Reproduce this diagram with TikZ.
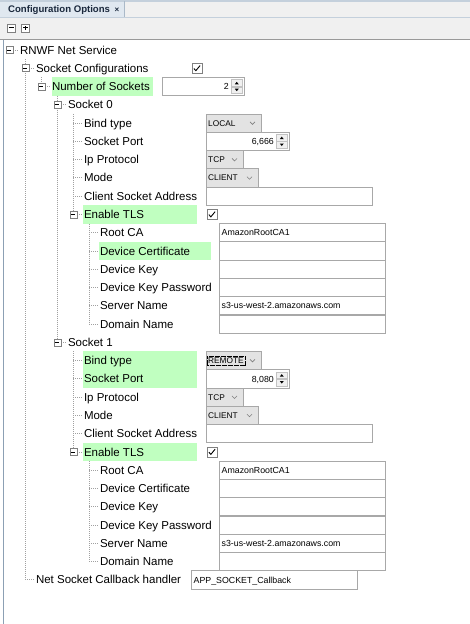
\documentclass[tikz,border=0pt]{standalone}
\usepackage{fontspec}
\setmainfont{Liberation Sans}
\definecolor{hl}{RGB}{192,255,192}
\definecolor{tline}{RGB}{160,160,160}
\definecolor{fborder}{RGB}{168,168,168}
\definecolor{ddfill}{RGB}{227,227,227}
\definecolor{tabfill}{RGB}{224,232,240}
\definecolor{barfill}{RGB}{240,240,240}
\definecolor{bluline}{RGB}{196,208,220}
\definecolor{tabsep}{RGB}{170,185,200}
\definecolor{frameline}{RGB}{140,160,180}
\definecolor{tabtext}{RGB}{26,40,60}
\tikzset{
  treeline/.style={tline, line width=0.8pt, dash pattern=on 1pt off 1pt},
  lbl/.style={anchor=west, inner sep=0pt, text height=8.2pt, text depth=0pt, font=\fontsize{11.5}{13}\selectfont},
  ftxt/.style={anchor=west, inner sep=0pt, text height=6.4pt, text depth=0pt, font=\fontsize{8.8}{10}\selectfont},
  ddtxt/.style={anchor=west, inner sep=0pt, text height=6.2pt, text depth=0pt, font=\fontsize{8.3}{10}\selectfont},
  fieldbox/.style={draw=fborder, fill=white, line width=0.8pt},
  ddbox/.style={draw=fborder, fill=ddfill, line width=0.8pt},
  spinbtn/.style={draw=fborder!70, fill=barfill, line width=0.5pt},
  expbox/.style={draw=gray, fill=white, line width=0.6pt, minimum size=7pt, inner sep=0pt},
  tbbtn/.style={draw=gray, fill=white, line width=0.6pt, minimum size=8pt, inner sep=0pt},
}
\newcommand\RY[1]{(50+18.27*(#1))}
\newcommand\XL[1]{(9.3+16*(#1))}
\newcommand\leaflabel[4]{%
  \node[lbl] (#1) at ({\XL{#2}+10.5},{\RY{#3}}) {#4};
  \draw[treeline] ({\XL{#2}},{\RY{#3}}) -- ([xshift=-1.5pt]#1.west);
}
\newcommand\explabel[4]{%
  \node[lbl] (#1) at ({\XL{#2}+10.5},{\RY{#3}}) {#4};
  \draw[treeline] ({\XL{#2}+3.5},{\RY{#3}}) -- ([xshift=-1.5pt]#1.west);
  \node[expbox] (#1x) at ({\XL{#2}},{\RY{#3}}) {};
  \draw[line width=0.8pt] ([xshift=-2pt]#1x.center) -- ([xshift=2pt]#1x.center);
}
\newcommand\tfield[5]{%
  \draw[fieldbox] (#2,{\RY{#4}-9.1}) rectangle (#3,{\RY{#4}+9.1});
  \node[ftxt] (#1) at ({#2+2.5},{\RY{#4}}) {#5};
}
\newcommand\ddown[5]{%
  \draw[ddbox] (#2,{\RY{#4}-9.1}) rectangle (#3,{\RY{#4}+9.1});
  \node[ddtxt] (#1) at ({#2+2},{\RY{#4}}) {#5};
  \draw[gray, line width=0.6pt] ({#3-11},{\RY{#4}-1.2}) -- ({#3-8.5},{\RY{#4}+1.3}) -- ({#3-6},{\RY{#4}-1.2});
}
\newcommand\spin[6]{%
  \draw[fieldbox] (#2,{\RY{#5}-9.1}) rectangle (#4,{\RY{#5}+9.1});
  \node[ftxt, anchor=east] (#1) at ({#3-2},{\RY{#5}}) {#6};
  \draw[spinbtn] ({#3},{\RY{#5}-7}) rectangle ({#4-1.5},{\RY{#5}-0.3});
  \draw[spinbtn] ({#3},{\RY{#5}+0.3}) rectangle ({#4-1.5},{\RY{#5}+7});
  \fill ({(#3+#4-1.5)/2-2},{\RY{#5}-2.2}) -- ++(4,0) -- ++(-2,-2.5) -- cycle;
  \fill ({(#3+#4-1.5)/2-2},{\RY{#5}+2.2}) -- ++(4,0) -- ++(-2,2.5) -- cycle;
}
\newcommand\cbox[3]{%
  \node[draw=gray, fill=white, minimum size=10pt, inner sep=0pt, line width=0.7pt, anchor=west] (#1) at (#2,{\RY{#3}}) {};
  \draw[line width=0.9pt] ([shift={(-3,0.2)}]#1.center) -- ([shift={(-1,2.4)}]#1.center) -- ([shift={(3.3,-2.8)}]#1.center);
}
\newcommand\hlrows[4]{%
  \fill[hl] (#1,{\RY{#3}-9.13}) rectangle (#2,{\RY{#4}+9.13});
}
\begin{document}
\begin{tikzpicture}[x=1pt,y=-1pt]
\useasboundingbox (0,0) rectangle (470,624);
\fill[white] (0,0) rectangle (470,624);
% header
\fill[barfill] (0,0) rectangle (470,39);
\fill[tabfill] (0,1.5) rectangle (124,17);
\draw[bluline, line width=1.2pt] (0,1) -- (470,1);
\draw[bluline, line width=1.5pt] (0,17.3) -- (470,17.3);
\draw[tabsep, line width=0.8pt] (124,1) -- (124,17);
\node[anchor=west, inner sep=0pt, text=tabtext, font=\bfseries\fontsize{9.6}{11}\selectfont] (tab) at (8,9.6) {Configuration Options};
\node[inner sep=0pt, text=tabtext, font=\bfseries\fontsize{8}{9}\selectfont] (tabclose) at (117,9.8) {×};
\draw[gray!80, line width=1pt] (0,39) -- (470,39);
\node[tbbtn] (collapse) at (11.2,27.8) {};
\draw[line width=0.9pt] ([xshift=-2.3pt]collapse.center) -- ([xshift=2.3pt]collapse.center);
\node[tbbtn] (expand) at (25.5,27.8) {};
\draw[line width=0.9pt] ([xshift=-2.3pt]expand.center) -- ([xshift=2.3pt]expand.center);
\draw[line width=0.9pt] ([yshift=-2.3pt]expand.center) -- ([yshift=2.3pt]expand.center);
\draw[frameline, line width=1pt] (3,39.5) -- (3,624);
% highlights
\hlrows{52}{153}{2}{2}
\hlrows{83}{197}{9}{9}
\hlrows{99}{211}{11}{11}
\hlrows{83}{197}{17}{18}
\hlrows{83}{197}{22}{22}
% vertical tree lines
\draw[treeline] ({\XL{1}},{\RY{1}-9.13}) -- ({\XL{1}},{\RY{29}});
\draw[treeline] ({\XL{2}},{\RY{2}-9.13}) -- ({\XL{2}},{\RY{2}});
\draw[treeline] ({\XL{3}},{\RY{3}-9.13}) -- ({\XL{3}},{\RY{16}});
\draw[treeline] ({\XL{4}},{\RY{4}-9.13}) -- ({\XL{4}},{\RY{9}});
\draw[treeline] ({\XL{4}},{\RY{17}-9.13}) -- ({\XL{4}},{\RY{22}});
\draw[treeline] ({\XL{5}},{\RY{10}-9.13}) -- ({\XL{5}},{\RY{15}});
\draw[treeline] ({\XL{5}},{\RY{23}-9.13}) -- ({\XL{5}},{\RY{28}});
% tree labels
\explabel{rnwf}{0}{0}{RNWF Net Service}
\explabel{sockcfg}{1}{1}{Socket Configurations}
\explabel{numsock}{2}{2}{Number of Sockets}
\explabel{sockA}{3}{3}{Socket 0}
\leaflabel{aBind}{4}{4}{Bind type}
\leaflabel{aPort}{4}{5}{Socket Port}
\leaflabel{aProto}{4}{6}{Ip Protocol}
\leaflabel{aMode}{4}{7}{Mode}
\leaflabel{aAddr}{4}{8}{Client Socket Address}
\explabel{aTls}{4}{9}{Enable TLS}
\leaflabel{aRoot}{5}{10}{Root CA}
\leaflabel{aCert}{5}{11}{Device Certificate}
\leaflabel{aKey}{5}{12}{Device Key}
\leaflabel{aKeyPw}{5}{13}{Device Key Password}
\leaflabel{aSrv}{5}{14}{Server Name}
\leaflabel{aDom}{5}{15}{Domain Name}
\explabel{sockB}{3}{16}{Socket 1}
\leaflabel{bBind}{4}{17}{Bind type}
\leaflabel{bPort}{4}{18}{Socket Port}
\leaflabel{bProto}{4}{19}{Ip Protocol}
\leaflabel{bMode}{4}{20}{Mode}
\leaflabel{bAddr}{4}{21}{Client Socket Address}
\explabel{bTls}{4}{22}{Enable TLS}
\leaflabel{bRoot}{5}{23}{Root CA}
\leaflabel{bCert}{5}{24}{Device Certificate}
\leaflabel{bKey}{5}{25}{Device Key}
\leaflabel{bKeyPw}{5}{26}{Device Key Password}
\leaflabel{bSrv}{5}{27}{Server Name}
\leaflabel{bDom}{5}{28}{Domain Name}
\leaflabel{cbh}{1}{29}{Net Socket Callback handler}
% widgets
\cbox{sockcfgCk}{191.5}{1}
\spin{numsockV}{162}{231}{244}{2}{2}
\ddown{aBindV}{206}{261}{4}{LOCAL}
\spin{aPortV}{206}{276}{289}{5}{6,666}
\ddown{aProtoV}{206}{243}{6}{TCP}
\ddown{aModeV}{206}{258}{7}{CLIENT}
\tfield{aAddrV}{206}{372}{8}{}
\cbox{aTlsCk}{206.5}{9}
\tfield{aRootV}{219}{385}{10}{AmazonRootCA1}
\tfield{aCertV}{219}{385}{11}{}
\tfield{aKeyV}{219}{385}{12}{}
\tfield{aKeyPwV}{219}{385}{13}{}
\tfield{aSrvV}{219}{385}{14}{s3-us-west-2.amazonaws.com}
\tfield{aDomV}{219}{385}{15}{}
\ddown{bBindV}{206}{261}{17}{REMOTE}
\draw[black, line width=0.5pt, dash pattern=on 0.6pt off 0.6pt] ([shift={(-1,-1.2)}]bBindV.north west) rectangle ([shift={(1,1.6)}]bBindV.south east);
\spin{bPortV}{206}{276}{289}{18}{8,080}
\ddown{bProtoV}{206}{243}{19}{TCP}
\ddown{bModeV}{206}{258}{20}{CLIENT}
\tfield{bAddrV}{206}{372}{21}{}
\cbox{bTlsCk}{206.5}{22}
\tfield{bRootV}{219}{385}{23}{AmazonRootCA1}
\tfield{bCertV}{219}{385}{24}{}
\tfield{bKeyV}{219}{385}{25}{}
\tfield{bKeyPwV}{219}{385}{26}{}
\tfield{bSrvV}{219}{385}{27}{s3-us-west-2.amazonaws.com}
\tfield{bDomV}{219}{385}{28}{}
\tfield{cbhV}{191}{357}{29}{APP\_SOCKET\_Callback}
\end{tikzpicture}
\end{document}
